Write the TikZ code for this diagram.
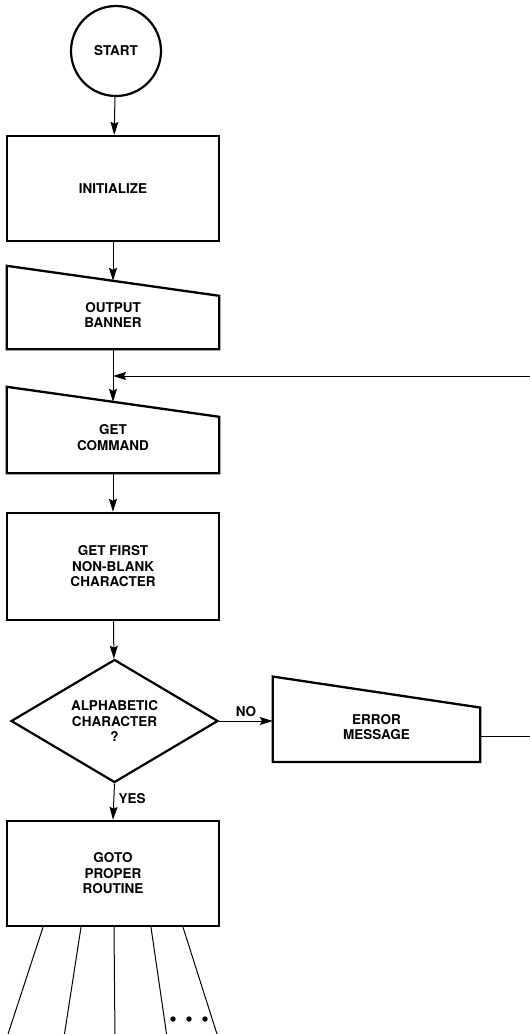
\documentclass[tikz,border=0pt]{standalone}
\usepackage{fontspec}
\setmainfont{TeX Gyre Heros}
\usetikzlibrary{arrows.meta,positioning,calc,shapes.geometric}

\begin{document}
\begin{tikzpicture}[x=1pt,y=-1pt,
  every node/.style={font=\bfseries\fontsize{13.5}{15.5}\selectfont,align=center},
  box/.style={draw,line width=2.4pt,minimum width=212pt},
  io/.style={minimum width=212pt,inner sep=0pt},
  link/.style={line width=1pt,-{Stealth[length=13pt,width=8pt,inset=2pt]}},
  plain/.style={line width=1pt}]
\useasboundingbox (0,0) rectangle (530,1034);
\node[draw,circle,line width=2.2pt,minimum size=90pt] (start) at (116,51) {START};
\node[box,minimum height=105pt] (init) at (113,188.5) {INITIALIZE};
\node[io,minimum height=68pt] (banner) at (113,315) {OUTPUT\\BANNER};
\draw[line width=2.3pt] (banner.south west) -- ([yshift=15pt]banner.north west) -- ([yshift=-15pt]banner.north east) -- (banner.south east) -- cycle;
\node[io,minimum height=71pt] (command) at (113,437.5) {GET\\COMMAND};
\draw[line width=2.3pt] (command.south west) -- ([yshift=15pt]command.north west) -- ([yshift=-15pt]command.north east) -- (command.south east) -- cycle;
\node[box,minimum height=107pt] (first) at (113,566.5) {GET FIRST\\NON-BLANK\\CHARACTER};
\node[draw,diamond,line width=2.2pt,minimum width=207pt,minimum height=123pt,aspect=1.68,inner sep=0pt] (alpha) at (114.5,721) {ALPHABETIC\\CHARACTER\\?};
\node[io,minimum width=207pt,minimum height=69.5pt] (error) at (376.5,727) {ERROR\\MESSAGE};
\draw[line width=2.3pt] (error.south west) -- ([yshift=15.5pt]error.north west) -- ([yshift=-15.5pt]error.north east) -- (error.south east) -- cycle;
\node[box,minimum height=105pt] (goto) at (113,873.5) {GOTO\\PROPER\\ROUTINE};
\coordinate (loop) at (530,376);
\coordinate (back) at (530,736);

\draw[link] (start) -- (init);
\draw[link] (init) -- (banner);
\draw[link] (banner.south) -- (command.north);
\draw[link] (loop) -- (loop -| banner.south);
\draw[link] (command) -- (first);
\draw[link] (first) -- (alpha);
\draw[link] (alpha.east) -- node[above=1pt]{NO} (alpha.east -| error.west);
\draw[plain] (error.east |- back) -- (back);
\draw[link] (alpha.south) -- node[right=1pt,pos=0.4]{YES} (goto.north);
% branches out of the dispatcher
\foreach \s/\e [count=\i] in {-70/-106,-32/-49,1/2,38/54,70/105} {
  \coordinate (leg\i) at ([xshift=\e pt,yshift=-110pt]goto.south);
  \draw[plain] ([xshift=\s pt]goto.south) -- (leg\i);
}
\foreach \x in {173,189,205} \fill (\x,1019) circle (2.7pt);
\end{tikzpicture}
\end{document}
